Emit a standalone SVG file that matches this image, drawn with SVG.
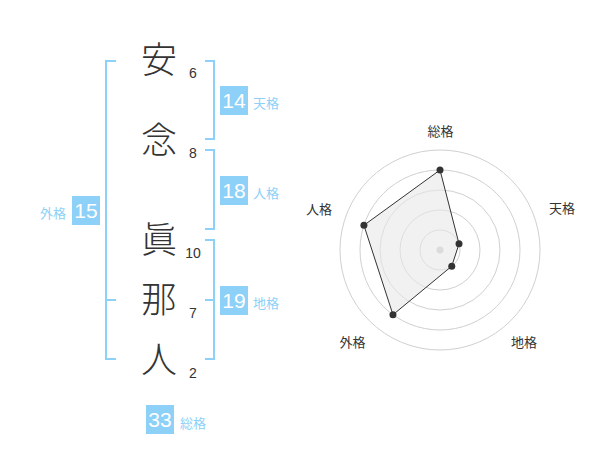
<svg xmlns="http://www.w3.org/2000/svg" width="600" height="470" viewBox="0 0 600 470">
<style>
.ch{font-family:"Noto Sans CJK JP","Noto Sans CJK SC",sans-serif;font-size:36px;font-weight:300;fill:#333;text-anchor:middle}
.st{font-family:"Liberation Sans",Arial,sans-serif;font-size:14px;fill:#333;text-anchor:middle}
.br{fill:none;stroke:#8dd0f8;stroke-width:2}
.bx{fill:#8dd0f8}
.bn{font-family:"Liberation Sans",Arial,sans-serif;font-size:21px;fill:#fff;text-anchor:middle}
.bl{font-family:"Noto Sans CJK JP","Noto Sans CJK SC",sans-serif;font-size:13px;fill:#8dd0f8}
.rl{font-family:"Noto Sans CJK JP","Noto Sans CJK SC",sans-serif;font-size:13px;fill:#333;text-anchor:middle}
.ring{fill:none;stroke:#d0d0d0;stroke-width:1}
</style>
<rect width="600" height="470" fill="#fff"/>
<g id="chars">
<text class="ch" x="159" y="73">安</text>
<text class="ch" x="159" y="153">念</text>
<text class="ch" x="159" y="253">眞</text>
<text class="ch" x="159" y="313">那</text>
<text class="ch" x="159" y="373">人</text>
<text class="st" x="193" y="78">6</text>
<text class="st" x="193" y="158">8</text>
<text class="st" x="193" y="258">10</text>
<text class="st" x="193" y="318">7</text>
<text class="st" x="193" y="378">2</text>
</g>
<g id="connectors">
<path class="br" d="M116,61 H106 V359 H116 M106,300 H116"/>
<path class="br" d="M205,61 H214 V139 H205"/>
<path class="br" d="M205,150 H214 V229 H205"/>
<path class="br" d="M205,240 H214 V359 H205 M205,300 H214"/>
</g>
<g id="tenkaku">
<rect class="bx" x="220" y="86" width="28" height="29"/>
<text class="bn" x="234" y="108">14</text>
<text class="bl" x="253" y="108">天格</text>
</g>
<g id="jinkaku">
<rect class="bx" x="220" y="176" width="28" height="29"/>
<text class="bn" x="234" y="198">18</text>
<text class="bl" x="253" y="198">人格</text>
</g>
<g id="chikaku">
<rect class="bx" x="220" y="286" width="28" height="29"/>
<text class="bn" x="234" y="308">19</text>
<text class="bl" x="253" y="308">地格</text>
</g>
<g id="gaikaku">
<rect class="bx" x="72" y="196" width="28" height="29"/>
<text class="bn" x="86" y="218">15</text>
<text class="bl" x="40" y="218">外格</text>
</g>
<g id="soukaku">
<rect class="bx" x="146" y="405" width="28" height="29"/>
<text class="bn" x="160" y="427">33</text>
<text class="bl" x="180" y="428">総格</text>
</g>
<g id="radar">
<circle class="ring" cx="440" cy="250" r="20"/>
<circle class="ring" cx="440" cy="250" r="40"/>
<circle class="ring" cx="440" cy="250" r="60"/>
<circle class="ring" cx="440" cy="250" r="80"/>
<circle class="ring" cx="440" cy="250" r="100"/>
<circle cx="440" cy="250" r="3.5" fill="#c8c8c8"/>
<polygon points="440,170 459.02,243.82 451.76,266.18 392.98,314.72 363.92,225.28" fill="#e8e8e8" fill-opacity="0.6" stroke="#333" stroke-width="1"/>
<g fill="#333">
<circle cx="440" cy="170" r="3.5"/>
<circle cx="459.02" cy="243.82" r="3.5"/>
<circle cx="451.76" cy="266.18" r="3.5"/>
<circle cx="392.98" cy="314.72" r="3.5"/>
<circle cx="363.92" cy="225.28" r="3.5"/>
</g>
<text class="rl" x="440.5" y="135.5">総格</text>
<text class="rl" x="562" y="213">天格</text>
<text class="rl" x="524" y="346.5">地格</text>
<text class="rl" x="352.5" y="346.5">外格</text>
<text class="rl" x="319" y="213.5">人格</text>
</g>
</svg>
